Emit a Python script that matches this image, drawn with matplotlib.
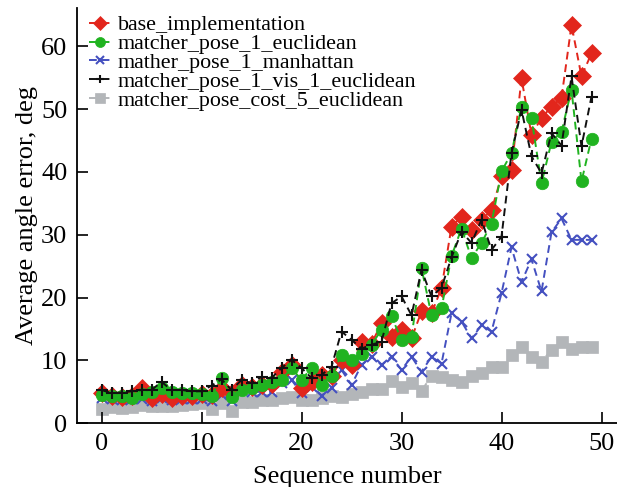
import matplotlib
matplotlib.use("Agg")
import matplotlib.pyplot as plt
import numpy as np

seq = list(range(50))

base_implementation = [4.8, 4.3, 4.2, 4.4, 5.6, 4.0, 4.6, 4.1, 4.3, 4.4,
                       4.6, 4.5, 5.6, 4.8, 6.1, 5.8, 6.1, 6.3, 8.2, 9.3,
                       5.6, 6.6, 7.7, 7.6, 10.0, 9.3, 13.0, 12.7, 15.9, 13.8,
                       14.9, 13.5, 17.8, 17.5, 21.5, 31.3, 32.9, 30.8, 32.4, 33.9,
                       39.3, 40.3, 54.9, 45.9, 48.6, 50.4, 51.8, 63.4, 55.2, 58.9]

matcher_pose_1_euclidean = [4.5, 4.3, 4.3, 4.1, 4.6, 5.0, 5.6, 5.0, 4.8, 4.8,
                            4.6, 4.3, 7.2, 4.2, 5.3, 5.6, 6.1, 6.6, 6.9, 8.8,
                            6.9, 8.8, 6.1, 7.6, 10.9, 10.1, 11.1, 12.5, 14.9, 17.0,
                            13.3, 13.8, 24.7, 17.2, 18.3, 26.6, 31.0, 26.3, 28.7, 31.8,
                            40.1, 43.0, 50.4, 48.6, 38.2, 44.8, 46.4, 53.1, 38.5, 45.3]

mather_pose_1_manhattan = [4.0, 3.9, 3.7, 3.8, 3.9, 3.6, 4.0, 3.7, 3.9, 3.8,
                           3.9, 3.5, 4.5, 3.6, 5.3, 5.0, 5.0, 5.0, 6.4, 6.9,
                           4.8, 5.8, 4.4, 5.6, 8.5, 6.1, 9.3, 10.6, 9.3, 10.6,
                           8.5, 10.6, 8.2, 10.6, 9.5, 17.5, 16.2, 13.5, 15.6, 14.6,
                           20.7, 28.0, 22.5, 26.1, 21.0, 30.4, 32.6, 29.2, 29.2, 29.2]

matcher_pose_1_vis_1_euclidean = [5.3, 4.8, 4.9, 5.1, 5.3, 5.3, 6.6, 5.3, 5.3, 5.1,
                                  5.1, 6.0, 7.0, 5.3, 6.9, 6.4, 7.4, 7.2, 8.8, 10.1,
                                  8.8, 7.2, 7.7, 9.0, 14.6, 13.3, 11.9, 12.5, 13.0, 19.1,
                                  20.2, 17.2, 24.4, 20.2, 21.6, 26.4, 30.5, 28.7, 32.4, 27.6,
                                  29.7, 43.0, 49.9, 42.5, 39.8, 46.2, 44.2, 55.2, 44.1, 52.0]

matcher_pose_cost_5_euclidean = [2.3, 2.6, 2.5, 2.6, 2.9, 2.7, 2.8, 2.8, 2.9, 3.1,
                                 3.3, 2.3, 3.2, 2.0, 3.4, 3.4, 3.7, 3.7, 4.0, 4.2,
                                 3.7, 3.7, 4.0, 4.3, 4.2, 4.6, 5.0, 5.5, 5.5, 6.8,
                                 5.8, 6.4, 5.2, 7.5, 7.3, 6.9, 6.6, 7.5, 8.0, 9.0,
                                 9.0, 10.8, 12.2, 10.6, 9.8, 11.7, 13.0, 11.9, 12.2, 12.2]

x_ticks = [0, 10, 20, 30, 40, 50]
y_ticks = [0, 10, 20, 30, 40, 50, 60]

plt.rcParams['font.family'] = ['Liberation Serif', 'DejaVu Serif']

fig = plt.figure(figsize=(6.17, 4.87), dpi=100)
ax = fig.add_axes([77/617, 1-423.3/487, 1-77/617, (423.3-8)/487])

series = [
    ("base_implementation", base_implementation, "#e2261c", "D", 9.5, 3),
    ("matcher_pose_1_euclidean", matcher_pose_1_euclidean, "#20b320", "o", 9, 4),
    ("mather_pose_1_manhattan", mather_pose_1_manhattan, "#4450c0", "x", 7, 2),
    ("matcher_pose_1_vis_1_euclidean", matcher_pose_1_vis_1_euclidean, "#111111", "+", 8, 5),
    ("matcher_pose_cost_5_euclidean", matcher_pose_cost_5_euclidean, "#b3b6b9", "s", 8.5, 1),
]

for name, vals, col, mk, ms, z in series:
    ax.plot(seq, vals, linestyle=(0, (4, 2.5)), color=col, linewidth=1.4,
            marker=mk, markersize=ms, markeredgewidth=1.5 if mk in "x+" else 0.5,
            markeredgecolor=col, markerfacecolor=col, label=name, zorder=z)

ax.set_xlim(-2.45, 51.55)
ax.set_ylim(0, 66.1)
ax.set_xticks(x_ticks)
ax.set_yticks(y_ticks)
ax.tick_params(direction='in', length=8, width=1.2, labelsize=19)
ax.tick_params(axis='x', pad=7)
ax.tick_params(axis='y', pad=7)
for s in ['top', 'right']:
    ax.spines[s].set_visible(False)
for s in ['left', 'bottom']:
    ax.spines[s].set_linewidth(1.3)

ax.set_xlabel("Sequence number", fontsize=19, labelpad=8)
ax.set_ylabel("Average angle error, deg", fontsize=19, labelpad=2)

leg = ax.legend(loc='upper left', bbox_to_anchor=(89/617, 1-15/487),
                bbox_transform=fig.transFigure, frameon=False, fontsize=15.8,
                handlelength=1.0, handletextpad=0.3, labelspacing=-0.07,
                borderpad=0, borderaxespad=0, markerscale=0.8)

fig.savefig("out.png", dpi=100)
